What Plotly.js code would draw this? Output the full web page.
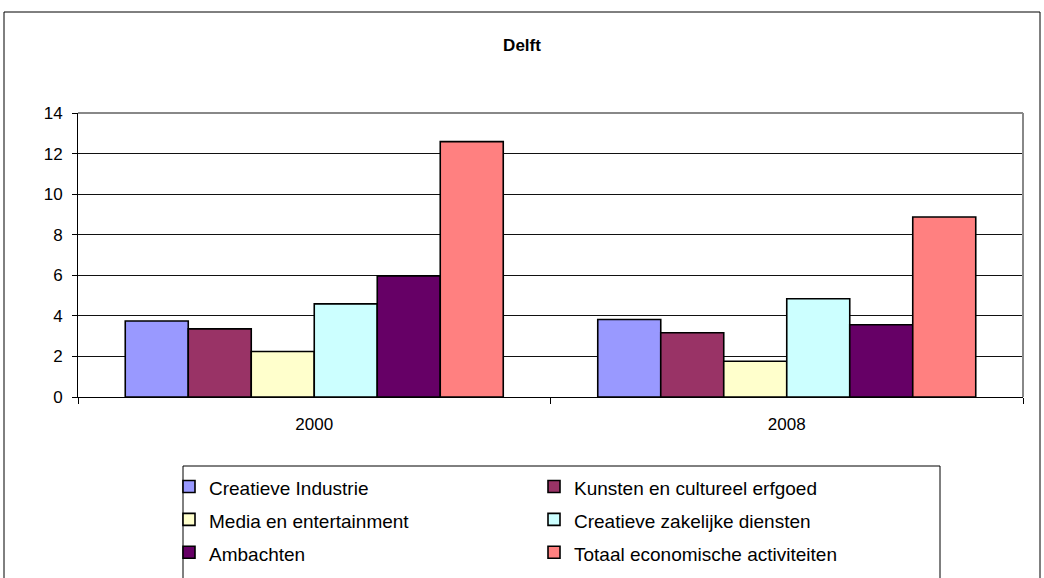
<!DOCTYPE html>
<html>
<head>
<meta charset="utf-8">
<script src="https://cdn.plot.ly/plotly-3.0.1.min.js"></script>
<style>
  html, body { margin: 0; padding: 0; background: #fff; }
  #chart { width: 1044px; height: 578px; }
</style>
</head>
<body>
<div id="chart"></div>
<script>
// Delft - creative sector, 2000 vs 2008
const years = ['2000', '2008'];
const seriesNames = [
    'Creatieve Industrie',
    'Kunsten en cultureel erfgoed',
    'Media en entertainment',
    'Creatieve zakelijke diensten',
    'Ambachten',
    'Totaal economische activiteiten'
];
const seriesColors = ['#9999ff', '#993366', '#ffffcc', '#ccffff', '#660066', '#ff8080'];
const creatieveIndustrie = [3.75, 3.82];
const kunsten = [3.36, 3.17];
const media = [2.24, 1.76];
const zakelijk = [4.59, 4.84];
const ambachten = [5.97, 3.56];
const totaal = [12.59, 8.87];
const yTicks = [0, 2, 4, 6, 8, 10, 12, 14];

const values = [creatieveIndustrie, kunsten, media, zakelijk, ambachten, totaal];
const font = 'Liberation Sans, Arial, sans-serif';

// legend font size sets the row height; the span keeps the text itself smaller
const traces = values.map((v, i) => ({
    type: 'bar',
    x: years,
    y: v,
    name: '<span style="font-size:19px">' + seriesNames[i] + '</span>',
    marker: { color: seriesColors[i], line: { color: '#000', width: 1.6 } },
    hoverinfo: 'skip'
}));

// plot area in pixels: left 78, right 1023, top 113, bottom 397
const L = 78, R = 1023, T = 113, B = 397;
const px = x => (x - L) / (R - L);
const py = y => (B - y) / (B - T);

const layout = {
    width: 1044,
    height: 578,
    margin: { l: L, r: 1044 - R, t: T, b: 578 - B, autoexpand: false },
    paper_bgcolor: '#fff',
    plot_bgcolor: '#fff',
    font: { family: font, size: 17, color: '#000' },
    title: {
        text: '<b>Delft</b>',
        font: { family: font, size: 17, color: '#000' },
        x: 0.5, xanchor: 'center',
        y: 1 - 45 / 578, yanchor: 'middle'
    },
    barmode: 'group',
    bargap: 0.2,
    bargroupgap: 0,
    showlegend: true,
    legend: {
        orientation: 'h',
        x: px(169), xanchor: 'left',
        y: py(465), yanchor: 'top',
        entrywidth: 320,
        entrywidthmode: 'pixels',
        itemwidth: 30,
        font: { family: font, size: 23, color: '#000' },
        bgcolor: 'rgba(0,0,0,0)',
        itemclick: false
    },
    xaxis: {
        type: 'category',
        showline: true,
        linecolor: '#000',
        linewidth: 1,
        ticks: 'outside',
        tickson: 'boundaries',
        ticklen: 6,
        tickcolor: '#000',
        ticklabelstandoff: 12,
        showgrid: false,
        tickfont: { family: font, size: 17, color: '#000' }
    },
    yaxis: {
        range: [0, 14],
        tickvals: yTicks,
        ticktext: yTicks.map(String),
        showline: true,
        linecolor: '#000',
        linewidth: 1,
        ticks: 'outside',
        ticklen: 5,
        tickcolor: '#000',
        ticklabelstandoff: 6,
        showgrid: true,
        gridcolor: '#111',
        gridwidth: 1,
        zeroline: false,
        tickfont: { family: font, size: 17, color: '#000' }
    },
    shapes: [
        // plot area border (top and right) in gray
        { type: 'line', xref: 'paper', yref: 'paper', x0: 0, x1: 1, y0: 1, y1: 1, line: { color: '#888', width: 2 } },
        { type: 'line', xref: 'paper', yref: 'paper', x0: 1, x1: 1, y0: 0, y1: 1, line: { color: '#888', width: 2 } },
        // chart outer frame
        { type: 'rect', xref: 'paper', yref: 'paper', layer: 'below',
          x0: px(4), x1: px(1040), y0: py(620), y1: py(12), line: { color: '#000', width: 1 } },
        // legend frame
        { type: 'rect', xref: 'paper', yref: 'paper', layer: 'below',
          x0: px(183), x1: px(940), y0: py(620), y1: py(466), line: { color: '#000', width: 1 } }
    ]
};

Plotly.newPlot('chart', traces, layout, { displayModeBar: false, staticPlot: true });
</script>
</body>
</html>
